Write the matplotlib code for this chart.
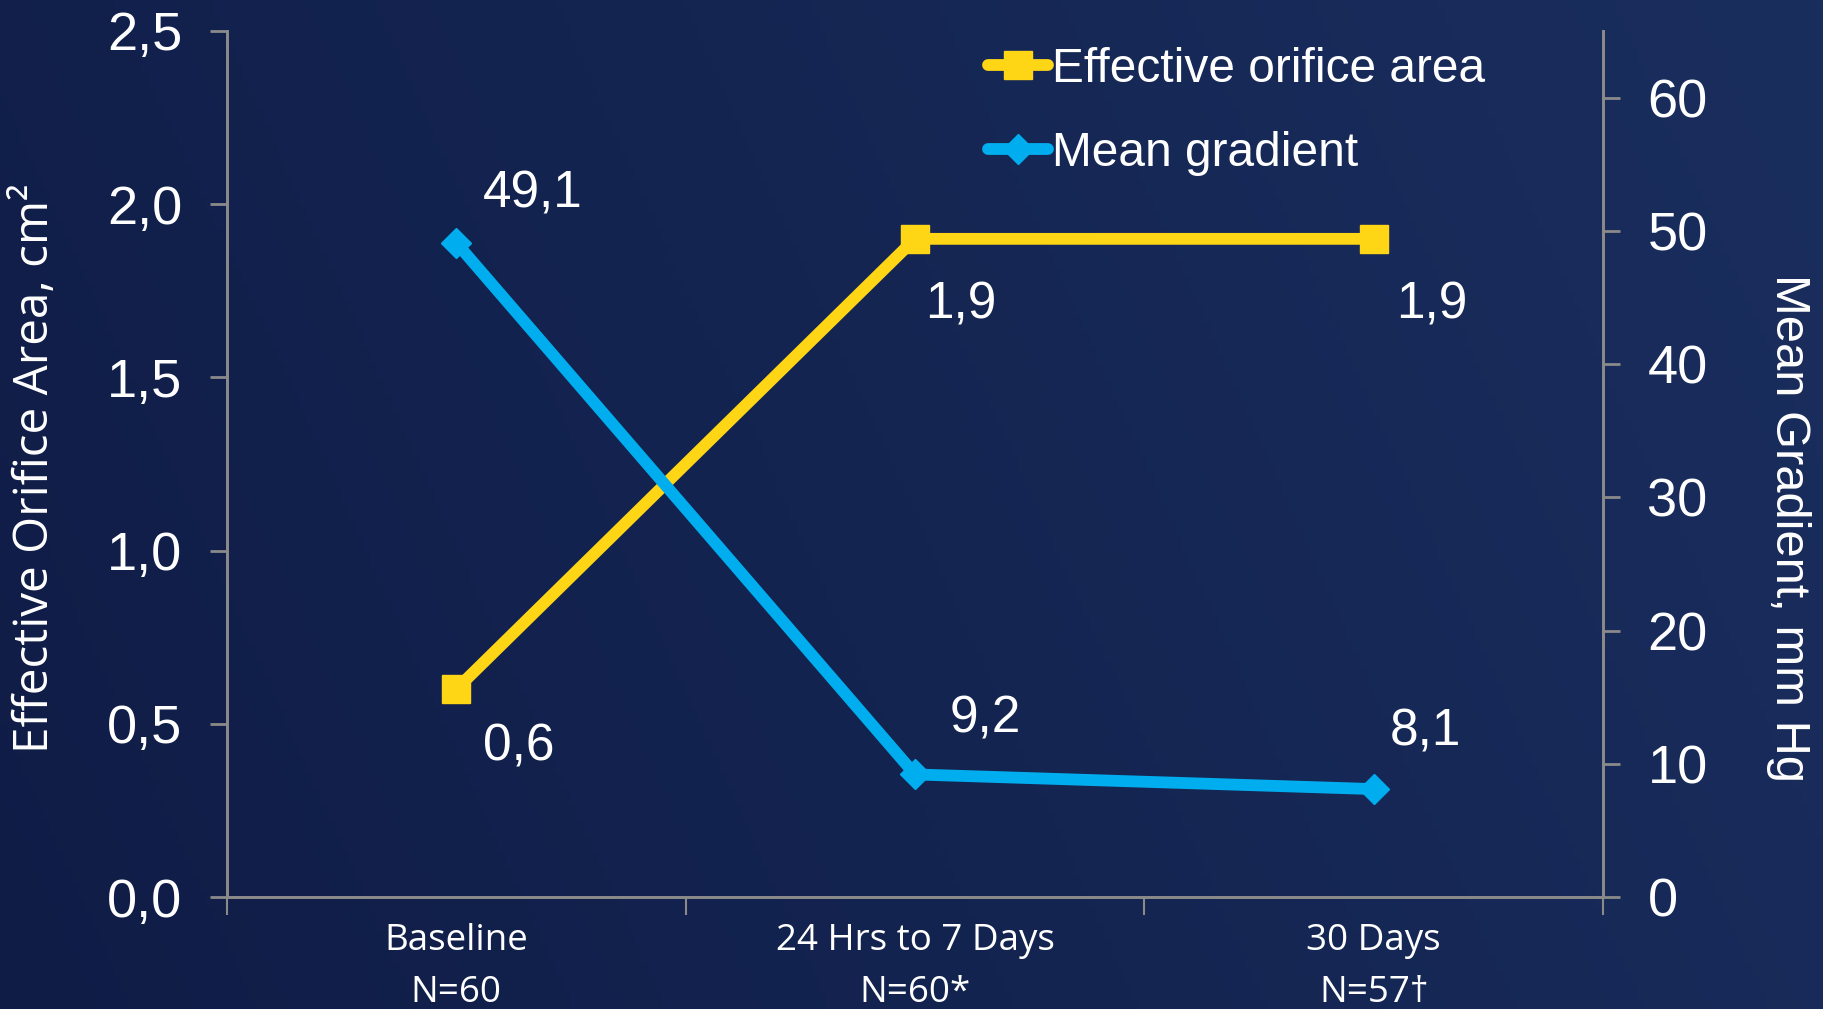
import matplotlib
matplotlib.use("Agg")
import matplotlib.pyplot as plt
import numpy as np
from matplotlib.lines import Line2D

# Data
categories = ["Baseline\nN=60", "24 Hrs to 7 Days\nN=60*", "30 Days\nN=57\u2020"]
eoa_values = [0.6, 1.9, 1.9]
gradient_values = [49.1, 9.2, 8.1]
eoa_labels = ["0,6", "1,9", "1,9"]
gradient_labels = ["49,1", "9,2", "8,1"]
left_ticks = [0.0, 0.5, 1.0, 1.5, 2.0, 2.5]
left_ticklabels = ["0,0", "0,5", "1,0", "1,5", "2,0", "2,5"]
right_ticks = [0, 10, 20, 30, 40, 50, 60]

YELLOW = "#FFD616"
BLUE = "#00AEEF"
SPINE = "#8a8a8a"
NUM_FONT = ["Liberation Sans", "DejaVu Sans"]
CAT_FONT = ["Open Sans", "DejaVu Sans"]
LABEL_FONT = ["Open Sans", "DejaVu Sans"]
LW = 8.5

fig = plt.figure(figsize=(18.23, 10.09), dpi=100)

# Background gradient (dark navy, slightly lighter to the right)
bg = fig.add_axes([0, 0, 1, 1], zorder=-10)
c0 = np.array([15, 28, 70]) / 255
c1 = np.array([26, 46, 94]) / 255
gx = np.linspace(0, 1, 256)[None, :]
gy = np.linspace(0, 1, 128)[:, None]
t = np.clip(0.8 * gx + 0.2 * gy, 0, 1)
grad = c0[None, None, :] * (1 - t[..., None]) + c1[None, None, :] * t[..., None]
bg.imshow(grad, aspect="auto", extent=[0, 1, 0, 1], origin="lower")
bg.set_axis_off()

ax = fig.add_axes([227 / 1823, 1 - 897 / 1009, (1603 - 227) / 1823, (897 - 31) / 1009])
ax.set_facecolor("none")
ax2 = ax.twinx()

x = np.arange(len(categories)) + 0.5

ax.plot(x, eoa_values, color=YELLOW, lw=LW, marker="s", ms=20,
        solid_joinstyle="miter", zorder=3)
ax2.plot(x, gradient_values, color=BLUE, lw=LW, marker="D", ms=15,
         solid_joinstyle="miter", zorder=4)

ax.set_xlim(0, 3)
ax.set_ylim(0, 2.5)
ax2.set_ylim(0, 65)

ax.set_xticks([0, 1, 2, 3])
ax.set_xticklabels([])
ax.set_xticks(x, minor=True)
ax.set_xticklabels(categories, minor=True, color="white", fontsize=26.5,
                   family=CAT_FONT, linespacing=1.56)
ax.tick_params(axis="x", which="major", direction="out", length=13, width=1.5,
               color=SPINE)
ax.tick_params(axis="x", which="minor", length=0, pad=19)

ax.set_yticks(left_ticks)
ax.set_yticklabels(left_ticklabels, color="white", fontsize=39, family=NUM_FONT)
ax.tick_params(axis="y", direction="out", length=12, width=2, color=SPINE, pad=20)

ax2.set_yticks(right_ticks)
ax2.set_yticklabels([str(v) for v in right_ticks], color="white", fontsize=39,
                    family=NUM_FONT)
ax2.tick_params(axis="y", direction="out", length=12, width=2, color=SPINE, pad=20)

for a in (ax, ax2):
    a.spines["top"].set_visible(False)
    for s in ("left", "right", "bottom"):
        a.spines[s].set_color(SPINE)
        a.spines[s].set_linewidth(2)

# Value labels
for xi, v, lab, off in zip(x, eoa_values, eoa_labels, [(27, -58), (10, -66), (22, -66)]):
    ax.annotate(lab, (xi, v), xytext=off, textcoords="offset pixels",
                ha="left", va="center", color="white", fontsize=37, family=NUM_FONT)
for xi, v, lab, off in zip(x, gradient_values, gradient_labels, [(27, 49), (35, 55), (16, 57)]):
    ax2.annotate(lab, (xi, v), xytext=off, textcoords="offset pixels",
                 ha="left", va="center", color="white", fontsize=37, family=NUM_FONT)

# Axis titles
fig.text(35 / 1823, 1 - 468 / 1009, "Effective Orifice Area, cm\u00b2", rotation=90,
         ha="center", va="center", color="white", fontsize=34.3, family=LABEL_FONT)
fig.text(1788 / 1823, 1 - 528 / 1009, "Mean Gradient, mm Hg", rotation=270,
         ha="center", va="center", color="white", fontsize=35.2, family=NUM_FONT)

# Legend
handles = [
    Line2D([], [], color=YELLOW, lw=LW, marker="s", ms=20, solid_capstyle="round"),
    Line2D([], [], color=BLUE, lw=LW, marker="D", ms=15, solid_capstyle="round"),
]
leg = ax2.legend(handles, ["Effective orifice area", "Mean gradient"],
                 loc="upper left", bbox_to_anchor=(988 / 1823, 1 - 47 / 1009),
                 bbox_transform=fig.transFigure, frameon=False, fontsize=34.5,
                 handlelength=1.25, handletextpad=0.08, labelspacing=0.81,
                 borderaxespad=0, borderpad=0)
for txt in leg.get_texts():
    txt.set_color("white")
    txt.set_family(NUM_FONT)

fig.savefig("out.png", dpi=100)
